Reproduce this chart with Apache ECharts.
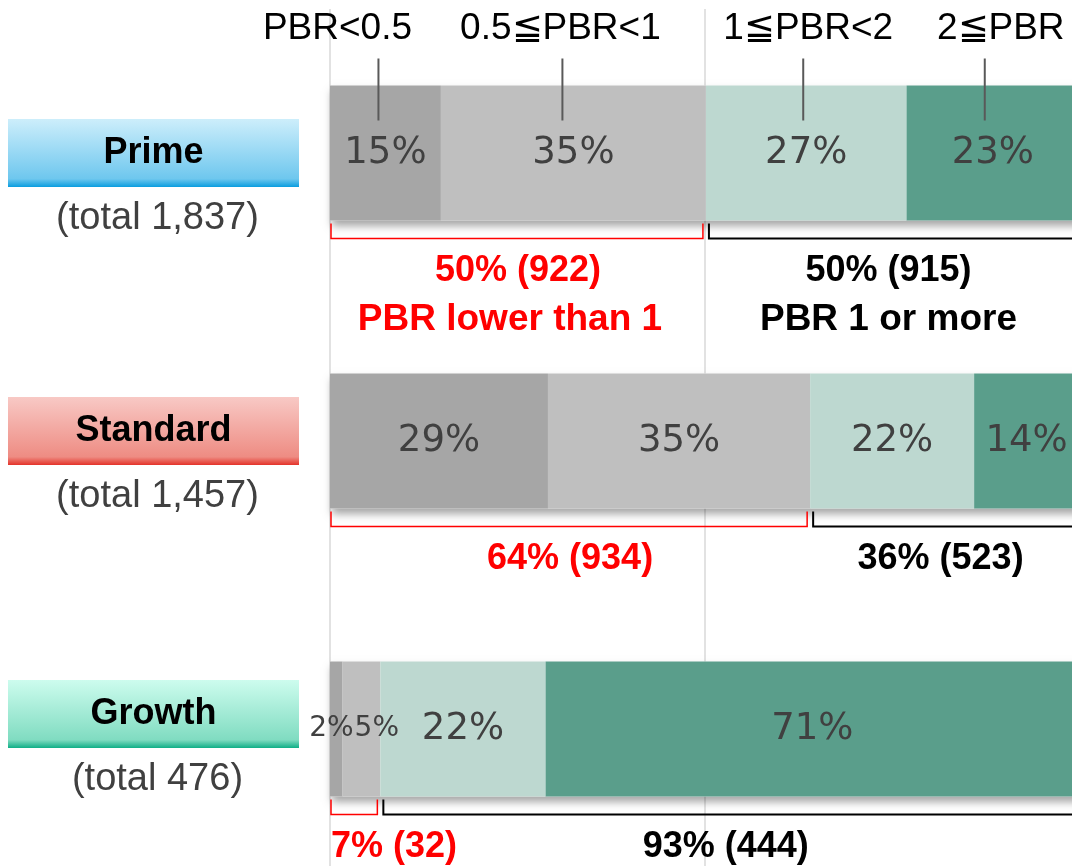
<!DOCTYPE html>
<html>
<head>
<meta charset="utf-8">
<title>PBR distribution by market</title>
<script src="https://cdn.jsdelivr.net/npm/echarts@6/dist/echarts.min.js"></script>
<style>
html, body { margin: 0; padding: 0; background: #fff; }
#chart { width: 1072px; height: 866px; }
</style>
</head>
<body>
<div id="chart"></div>
<script>
// markets, top to bottom
const markets = ['Prime', 'Standard', 'Growth'];
// PBR bands (headers over the Prime bar)
const bands = ['PBR<0.5', '0.5≦PBR<1', '1≦PBR<2', '2≦PBR'];
// number of companies per band, per market
const pbrUnder05 = [272, 424, 8];
const pbr05to1 = [650, 510, 24];
const pbr1to2 = [492, 319, 105];
const pbrOver2 = [423, 204, 339];
// captions under the Prime brackets
const bracketCaptions = ['PBR lower than 1', 'PBR 1 or more'];

const counts = [pbrUnder05, pbr05to1, pbr1to2, pbrOver2];
const totals = markets.map((m, i) => counts.reduce((s, c) => s + c[i], 0));
const share = (v, i) => v / totals[i] * 100;
const fmtInt = n => n.toLocaleString('en-US');

const colors = ['#a6a6a6', '#bfbfbf', '#bdd8d0', '#5a9e8b'];
const BAR_W = 135;
const SANS = '"Liberation Sans", Arial, sans-serif';
const grad = (c0, c1, c2) => ({
  type: 'linear', x: 0, y: 0, x2: 0, y2: 1,
  colorStops: [{ offset: 0, color: c0 }, { offset: 0.88, color: c1 }, { offset: 1, color: c2 }]
});
const boxKeys = ['boxP', 'boxS', 'boxG'];
const padKeys = ['padP', 'padS', 'padG'];
const boxStyle = bg => ({
  width: 291, height: 68, align: 'center', backgroundColor: bg,
  fontSize: 36, fontWeight: 'bold', color: '#000', fontFamily: SANS
});

// small nudges so header texts / leader lines sit as in the original
const lineNudge = [-7, -11, -3, -8];
const textNudge = [-48, -13, 2, 8];

let chart = echarts.init(document.getElementById('chart'));

// white bar under each stack that only carries the drop shadow
const shadowSeries = {
  type: 'bar',
  barWidth: BAR_W,
  barGap: '-100%',
  silent: true,
  itemStyle: {
    color: '#fff',
    shadowColor: 'rgba(0,0,0,0.35)',
    shadowBlur: 8,
    shadowOffsetX: 2,
    shadowOffsetY: 5
  },
  data: totals.map((t, i) => share(t, i))
};

const barSeries = counts.map((arr, k) => ({
  name: bands[k],
  type: 'bar',
  stack: 'pbr',
  barWidth: BAR_W,
  barGap: '-100%',
  silent: true,
  itemStyle: { color: colors[k] },
  label: {
    show: true,
    position: 'inside',
    fontSize: 37,
    fontFamily: '"DejaVu Sans", sans-serif',
    color: '#404040',
    formatter: p => Math.round(p.value) + '%'
  },
  data: arr.map((v, i) => {
    const p = share(v, i);
    if (p >= 6) return p;
    // tiny segments: smaller text, placed side by side
    return {
      value: p,
      label: k === 0
        ? { position: 'insideRight', fontSize: 28, offset: [16, 0] }
        : { position: 'insideLeft', fontSize: 28, offset: [7, 0] }
    };
  })
}));

// headers + leader lines over the Prime bar
let acc = 0;
const headerData = counts.map(arr => {
  const s = acc;
  acc += share(arr[0], 0);
  return [s, acc, 0];
});
const headerSeries = {
  type: 'custom',
  z: 10,
  silent: true,
  encode: { x: [0, 1], y: 2 },
  data: headerData,
  renderItem(params, api) {
    const k = params.dataIndex;
    const mid = (api.value(0) + api.value(1)) / 2;
    const p = api.coord([mid, 0]);
    const top = p[1] - BAR_W / 2;
    const x = p[0] + lineNudge[k];
    return {
      type: 'group',
      children: [
        { type: 'line', shape: { x1: x, y1: top - 27, x2: x, y2: top + 35 },
          style: { stroke: '#595959', lineWidth: 2 } },
        { type: 'text', x: p[0] + textNudge[k], y: top - 57,
          style: { text: bands[k], fontSize: 37, fontFamily: SANS, fill: '#000',
                   align: 'center', verticalAlign: 'middle' } }
      ]
    };
  }
};

// brackets under every bar: PBR < 1 (red) and PBR >= 1 (black)
const bracketSeries = {
  type: 'custom',
  z: 10,
  silent: true,
  encode: { x: [0, 1, 2], y: 3 },
  data: markets.map((m, i) => [0, share(pbrUnder05[i] + pbr05to1[i], i), 100, i]),
  renderItem(params, api) {
    const i = params.dataIndex;
    const low = pbrUnder05[i] + pbr05to1[i];
    const high = totals[i] - low;
    const y0 = api.coord([0, i])[1] + BAR_W / 2;
    const xs = api.coord([api.value(0), i])[0];
    const xm = api.coord([api.value(1), i])[0];
    const xe = api.coord([api.value(2), i])[0];
    const yt = y0 + 3, yb = y0 + 18;
    const txt = (text, x, y, color, align) => ({
      type: 'text', x: x, y: y,
      style: { text: text, fontSize: 36, fontWeight: 'bold', fontFamily: SANS, fill: color,
               align: align, verticalAlign: 'middle' }
    });
    const narrow = xm - xs < 150;
    const children = [
      { type: 'polyline', shape: { points: [[xs + 1, yt], [xs + 1, yb], [xm - 3, yb], [xm - 3, yt]] },
        style: { stroke: '#ff0000', lineWidth: 1.5, fill: null } },
      { type: 'polyline', shape: { points: [[xm + 3, yt], [xm + 3, yb], [xe, yb], [xe, yt]] },
        style: { stroke: '#000', lineWidth: 2, fill: null } },
      txt(Math.round(share(low, i)) + '% (' + low + ')',
          narrow ? xs + 1 : (xs + xm) / 2, y0 + 51, '#ff0000', narrow ? 'left' : 'center'),
      txt(Math.round(share(high, i)) + '% (' + high + ')', (xm + xe) / 2 - 4, y0 + 51, '#000', 'center')
    ];
    if (i === 0) {
      const cap = (text, x, color) => {
        const t = txt(text, x, y0 + 99, color, 'center');
        t.style.fontSize = 37;
        return t;
      };
      children.push(cap(bracketCaptions[0], (xs + xm) / 2 - 8, '#ff0000'));
      children.push(cap(bracketCaptions[1], (xm + xe) / 2 - 4, '#000'));
    }
    return { type: 'group', children: children };
  }
};

let option = {
  animation: false,
  backgroundColor: '#fff',
  grid: { left: 330, right: -7, top: 9, bottom: -7, outerBoundsMode: 'none' },
  xAxis: {
    type: 'value',
    min: 0,
    max: 100,
    interval: 50,
    axisLine: { show: false },
    axisTick: { show: false },
    axisLabel: { show: false },
    splitLine: { show: true, lineStyle: { color: '#d9d9d9', width: 1.5 } }
  },
  yAxis: {
    type: 'category',
    inverse: true,
    data: markets,
    axisLine: { show: false },
    axisTick: { show: false },
    axisLabel: {
      margin: 31,
      formatter: (value, index) =>
        '{' + padKeys[index] + '| }\n{' + boxKeys[index] + '|' + value + '}\n{total|(total ' + fmtInt(totals[index]) + ')}',
      rich: {
        padP: { height: 64, width: 291 },
        padS: { height: 44, width: 291 },
        padG: { height: 34, width: 291 },
        boxP: boxStyle(grad('#cdeefb', '#6ec7ee', '#0a9ddf')),
        boxS: boxStyle(grad('#f8c9c5', '#ee8c83', '#e4332a')),
        boxG: boxStyle(grad('#cdfcee', '#80dcc1', '#0fae86')),
        total: { width: 283, height: 64, align: 'center', fontSize: 38, color: '#404040',
                 fontFamily: SANS, padding: [0, 0, 0, 8] }
      }
    }
  },
  series: [shadowSeries].concat(barSeries, [headerSeries, bracketSeries])
};

chart.setOption(option);
</script>
</body>
</html>
